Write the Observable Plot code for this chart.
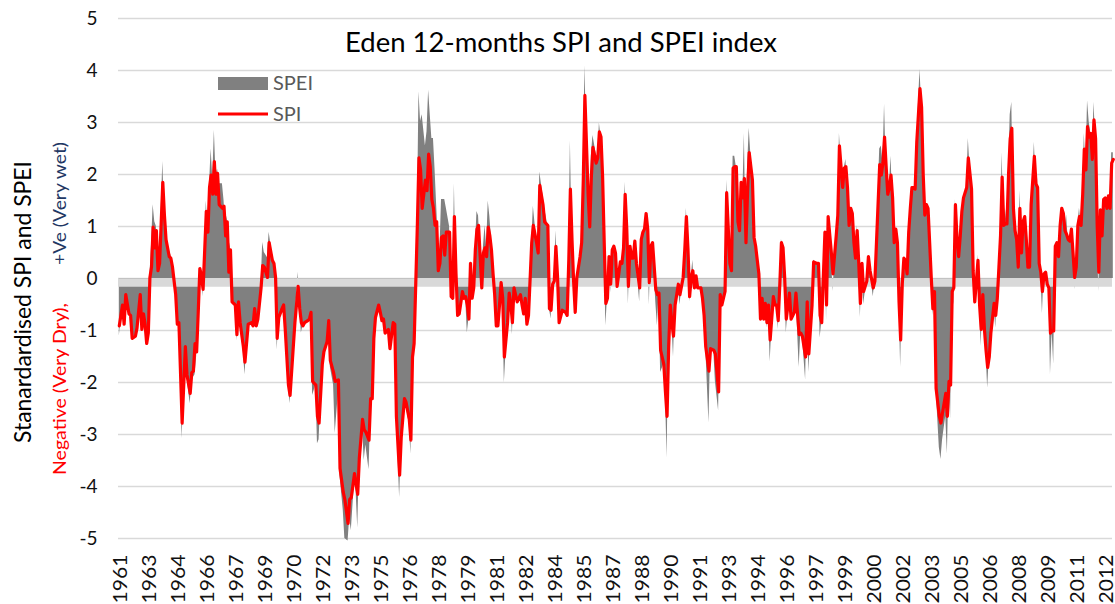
<!DOCTYPE html>
<html>
<head>
<meta charset="utf-8">
<script src="https://cdn.jsdelivr.net/npm/d3@7"></script>
<script src="https://cdn.jsdelivr.net/npm/@observablehq/plot@0.6"></script>
<style>
  html, body { margin: 0; padding: 0; background: #fff; }
  #chart { width: 1115px; height: 604px; }
</style>
</head>
<body>
<div id="chart"></div>
<script>
// Month index (0 = first month of the record) at the turning points
const months = [
  0,2,3,4,6,7,8,10,11,13, 14,15,16,17,18,19,20,21,22,23, 24,25,27,28,29,31,32,33,35,36,
  37,39,41,42,44,45,46,47,48,49, 50,51,52,54,55,56,57,58,59,60, 61,62,64,65,66,67,68,69,70,72,
  73,74,75,77,78,80,82,83,84,85, 86,88,89,90,92,93,95,96,97,98, 99,101,102,103,105,106,108,109,111,112,
  113,114,115,117,118,119,120,122,123,124, 126,127,129,130,131,133,134,136,137,139, 140,142,143,144,146,147,148,149,151,152,
  153,155,156,157,158,159,161,162,163,164, 165,167,168,170,171,172,174,175,177,178, 180,181,182,183,185,186,187,188,190,191,
  192,193,194,195,196,197,198,199,200,201, 202,203,205,206,207,208,209,210,211,213, 214,215,216,217,218,219,220,221,222,223,
  225,226,227,228,229,230,231,232,233,234, 235,236,237,238,239,241,242,243,244,245, 247,249,250,251,252,253,254,256,257,259,
  260,261,263,264,266,267,268,269,270,271, 272,273,275,277,278,279,280,281,282,283, 284,286,287,288,289,291,292,293,294,296,
  297,298,299,300,301,302,303,304,305,306, 307,308,309,311,312,313,314,315,316,317, 318,319,320,321,323,324,325,326,327,328,
  329,330,331,333,334,335,336,338,339,340, 341,342,343,344,345,347,348,350,351,352, 353,354,355,356,357,358,359,361,362,363,
  364,366,367,369,370,372,373,374,376,377, 379,380,381,382,383,384,385,386,387,388, 389,390,391,393,394,395,396,397,398,399,
  400,401,402,403,404,406,407,408,409,410, 411,412,413,414,416,417,419,420,422,423, 424,426,427,428,430,431,433,434,435,436,
  438,439,440,442,443,445,446,447,449,450, 451,452,453,454,455,456,457,458,459,460, 461,462,464,465,466,468,469,470,472,473,
  474,475,476,477,478,479,480,481,482,483, 484,485,486,487,488,489,490,491,492,493, 494,495,497,498,499,500,501,502,503,504,
  505,506,507,509,510,511,513,514,515,516, 517,518,519,520,521,522,523,524,526,527, 528,529,530,531,532,533,534,535,536,537,
  538,539,540,541,543,544,545,546,547,548, 549,550,551,552,553,554,555,556,557,558, 559,560,561,562,563,564,565,566,567,568,
  569,570,571,572,573,574,575,576,577,578, 579,580,581,582,583,584,585,586,587,588, 589,590,591,592,593,594,595,596,597,598,
  599,600,601,602,603,604,605,606,607,608, 609,610,611,612,613,614,615,616,617
];

// 12-month SPI (red line)
const spiValues = [
  -0.91,-0.51,-0.88,-0.31,-0.68,-0.71,-1.15,-1.11,-0.95,-0.31, -0.98,-0.68,-0.88,-1.25,-1.05,0.02,0.22,0.99,0.59,0.92, 0.15,0.29,1.85,1.22,0.75,0.42,0.39,0.22,-0.31,-0.88,
  -0.85,-2.78,-1.31,-1.85,-2.21,-1.81,-1.78,-1.25,-1.41,-0.65, 0.19,0.05,-0.21,1.29,0.89,1.75,1.99,1.62,2.25,1.62, 2.02,1.42,1.35,1.39,0.82,1.09,0.12,0.55,-0.45,-0.51,
  -1.08,-0.45,-0.85,-1.31,-1.61,-0.88,-0.85,-0.91,-0.58,-0.91, -0.78,-0.18,0.25,0.22,0.02,0.69,0.35,0.29,0.02,-1.15, -0.75,-0.58,-0.51,-0.98,-2.05,-2.25,-1.31,-0.85,-0.15,-0.58,
  -0.85,-0.91,-0.85,-0.81,-0.78,-0.65,-1.98,-2.05,-2.65,-2.78, -1.65,-1.41,-1.21,-0.81,-1.58,-1.81,-1.98,-1.95,-3.65,-4.11, -4.25,-4.71,-4.25,-4.21,-3.75,-3.95,-4.15,-3.45,-2.71,-2.91,
  -2.95,-3.11,-2.31,-2.31,-1.15,-0.75,-0.51,-0.65,-0.81,-0.78, -1.05,-0.98,-1.35,-0.85,-0.88,-2.65,-3.78,-3.05,-2.31,-2.38, -2.71,-3.11,-1.51,-1.25,1.02,2.32,2.09,1.35,1.89,1.69,
  2.39,2.15,1.52,1.35,1.02,1.09,0.15,0.29,0.79,0.82, 0.45,0.89,0.89,-0.35,-0.38,1.19,0.09,-0.71,-0.68,-0.25, -0.38,-0.35,-0.51,-0.78,0.29,-0.38,-0.18,0.55,0.95,1.02,
  -0.18,0.49,0.59,0.42,0.99,0.82,0.55,0.09,-0.31,-0.91, -0.91,-0.51,-0.08,-0.38,-1.51,-0.85,-0.28,-0.48,-0.85,-0.18, -0.45,-0.31,-0.51,-0.68,-0.38,-0.88,-0.71,0.69,1.02,0.69,
  0.49,1.79,1.42,1.09,1.02,-0.58,-0.61,-0.11,-0.05,0.62, 0.05,-0.85,-0.61,-0.65,-0.71,0.35,1.72,0.75,-0.05,-0.65, 0.02,0.42,0.69,1.89,3.52,1.62,0.99,1.95,2.52,2.22,
  2.32,2.82,2.72,1.95,0.69,-0.48,-0.38,0.42,-0.11,0.55, 0.62,0.49,-0.15,0.32,0.29,0.59,1.62,0.95,-0.15,0.62, 0.39,0.39,0.72,0.29,-0.18,0.75,0.89,0.95,1.25,0.95,
  -0.08,0.62,0.69,-0.21,-0.31,-0.28,-1.38,-1.65,-2.18,-2.65, -1.31,-0.51,-0.85,-1.11,-0.51,-0.11,-0.31,0.02,0.55,1.19, 0.55,-0.35,0.02,0.15,-0.18,0.05,-0.18,-0.18,-0.38,-0.71,
  -1.31,-1.78,-1.35,-1.38,-1.45,-2.18,-0.31,-0.51,-0.25,1.65, 0.29,0.15,2.12,2.15,2.15,1.09,0.92,1.85,1.55,1.92, 0.69,1.69,2.42,1.89,0.79,0.62,0.35,0.09,-0.78,-0.38,
  -0.78,-0.48,-0.85,-0.51,-1.18,-0.35,-0.51,-0.51,-0.81,-0.11, 0.69,0.59,0.02,-0.78,-0.28,-0.78,-0.65,-0.28,-1.08,-1.05, -1.11,-1.51,-0.45,-1.45,-0.51,0.32,0.29,0.29,-0.71,-0.85,
  0.89,-0.51,1.19,0.49,0.09,0.82,1.22,2.55,1.75,2.12, 2.15,1.75,1.02,1.35,1.25,0.69,0.39,0.92,0.29,-0.48, 0.29,-0.25,-0.05,0.42,0.15,-0.18,-0.05,0.69,2.19,1.99,
  2.22,2.72,2.15,1.62,1.75,1.99,1.55,0.69,0.95,0.69, -0.45,-1.18,-0.11,0.39,0.35,0.09,0.89,1.35,1.75,1.75, 1.72,2.62,3.65,3.29,2.00,1.22,1.42,1.35,0.69,0.02,
  -0.58,-0.25,-2.11,-2.65,-2.78,-2.58,-2.21,-2.65,-1.98,-2.05, -0.25,-0.18,1.42,0.75,0.42,0.82,1.29,1.55,1.75,2.32, 2.02,1.72,0.15,-0.45,-0.05,0.35,-0.51,-0.98,-0.31,-0.98,
  -1.38,-1.71,-1.51,-1.05,-0.48,-0.71,-0.38,0.22,0.82,1.95, 1.02,1.05,1.05,2.02,2.69,2.89,1.35,0.92,0.75,0.22, 1.35,0.49,1.09,1.19,0.75,0.22,0.22,1.42,1.89,2.35,
  1.82,1.75,0.29,0.12,-0.25,0.09,0.12,-0.11,-0.18,-1.05, -1.01,-1.01,0.62,0.69,0.42,1.02,1.35,1.25,0.92,0.85, 0.75,0.72,0.95,0.49,0.02,0.22,1.02,1.19,1.02,1.62,
  2.49,2.09,2.92,2.72,2.79,2.29,3.05,2.69,1.02,0.12, 1.32,0.82,1.52,1.55,1.35,1.59,1.35,2.22,2.29
];

// 12-month SPEI (grey area)
const speiValues = [
  -1.11,-0.51,-0.90,-0.31,-0.68,-0.71,-1.17,-1.11,-0.95,-0.31, -0.98,-0.70,-0.88,-1.30,-1.05,0.05,0.65,1.42,1.09,1.00, 0.55,0.35,2.25,1.30,0.80,0.48,0.45,0.25,-0.31,-0.88,
  -0.85,-3.08,-1.35,-1.90,-2.41,-2.00,-1.90,-1.85,-1.50,-0.70, 0.20,0.05,-0.35,1.49,0.89,1.80,2.49,1.90,2.85,2.00, 2.10,1.82,1.82,1.50,1.00,1.20,0.75,0.60,-0.45,-0.51,
  -1.20,-0.50,-0.85,-1.40,-1.85,-0.88,-0.85,-0.91,-0.58,-0.91, -0.78,-0.18,0.69,0.50,0.40,0.89,0.45,0.29,0.02,-1.38, -0.75,-0.58,-0.51,-0.98,-2.10,-2.41,-1.31,-0.85,0.12,-0.58,
  -1.05,-0.91,-0.85,-0.81,-0.78,-0.65,-2.25,-2.05,-3.18,-3.10, -1.70,-1.45,-1.21,-0.85,-1.70,-2.05,-2.98,-2.20,-3.80,-4.45, -5.00,-5.05,-4.60,-4.85,-3.90,-4.10,-4.80,-3.60,-2.85,-3.50,
  -3.20,-3.68,-2.68,-2.31,-1.20,-0.75,-0.55,-0.65,-0.81,-0.78, -1.05,-0.98,-1.35,-0.85,-0.88,-2.65,-4.21,-3.25,-2.35,-2.45, -2.80,-3.38,-1.55,-1.25,1.02,3.59,3.02,3.15,2.55,2.82,
  3.62,3.15,2.69,2.69,2.09,1.40,0.70,0.50,1.52,1.52, 1.52,1.35,1.00,-0.38,-0.38,1.82,0.09,-0.71,-0.68,-0.25, -0.38,-0.35,-1.05,-0.78,0.29,-0.38,-0.18,0.55,1.29,1.20,
  -0.18,0.60,1.02,0.60,1.49,1.19,0.75,0.09,-0.31,-0.91, -0.91,-0.51,-0.08,-0.38,-2.01,-0.85,-0.28,-0.48,-1.08,-0.18, -0.45,-0.31,-0.51,-0.68,-0.38,-0.88,-0.71,0.69,1.39,0.75,
  0.55,2.05,1.60,1.35,1.02,-0.58,-0.78,-0.11,-0.05,0.92, 0.05,-0.85,-0.61,-0.65,-0.71,0.35,2.65,0.75,0.29,-0.65, 0.02,0.42,0.69,1.89,4.09,1.62,0.99,2.35,2.75,2.40,
  2.32,2.99,2.72,1.95,0.69,-0.91,-0.38,0.42,-0.28,0.55, 0.62,0.49,-0.15,0.32,0.29,0.59,1.85,0.95,-0.50,0.62, 0.39,0.39,0.72,0.29,-0.45,0.75,0.89,0.95,1.25,0.95,
  -0.51,0.62,0.69,-0.45,-0.91,-0.28,-1.81,-1.65,-2.18,-3.45, -1.31,-0.51,-0.85,-1.51,-0.51,-0.11,-0.51,0.02,0.55,1.35, 0.55,-0.45,0.02,0.35,-0.18,0.05,-0.18,-0.18,-0.38,-0.71,
  -1.31,-2.78,-1.35,-1.38,-1.98,-2.55,-0.60,-0.51,-0.25,1.89, 0.29,0.15,2.35,2.35,2.15,1.09,0.92,1.85,1.55,2.79, 0.69,2.15,2.89,1.89,0.79,0.70,0.45,0.09,-0.78,-0.58,
  -0.78,-0.48,-0.95,-0.51,-1.61,-0.35,-0.51,-0.51,-0.98,-0.11, 0.75,0.59,0.02,-1.05,-0.28,-0.78,-0.65,-0.28,-1.71,-1.05, -1.11,-1.95,-0.45,-1.81,-0.51,0.35,0.29,0.29,-1.15,-0.85,
  0.89,-0.81,1.19,0.49,-0.25,0.82,1.22,2.79,1.75,2.12, 2.29,1.75,1.02,1.35,1.25,0.69,0.55,1.02,0.29,-0.75, 0.29,-0.50,-0.05,0.42,0.15,-0.35,-0.05,0.69,2.49,2.55,
  2.22,3.35,2.15,1.62,1.75,2.35,1.55,0.69,0.95,0.69, -0.45,-1.71,-0.11,0.39,0.35,0.09,0.89,1.35,1.75,1.75, 1.72,2.62,4.02,3.35,2.00,1.22,1.42,1.35,0.69,0.02,
  -0.71,-0.25,-2.11,-3.25,-3.48,-3.11,-2.65,-3.38,-1.98,-2.70, -0.25,-0.51,1.52,0.75,0.42,0.82,1.29,1.55,1.75,2.69, 2.15,1.72,0.15,-0.51,-0.05,0.45,-0.51,-1.31,-0.31,-0.98,
  -1.38,-2.11,-1.51,-1.05,-0.48,-0.95,-0.38,0.22,0.82,2.42, 1.02,1.35,1.05,2.02,3.15,3.39,1.35,0.92,0.75,0.22, 1.69,0.49,1.09,1.19,0.75,0.22,0.22,1.42,1.89,2.62,
  1.82,1.92,0.29,0.12,-0.68,0.09,0.12,-0.11,-0.18,-1.85, -1.01,-1.65,0.62,0.69,0.42,1.02,1.35,1.25,0.92,1.22, 0.75,0.72,0.95,0.49,-0.21,0.22,1.02,1.35,1.02,1.62,
  2.79,2.09,3.42,3.02,2.79,2.29,3.39,2.69,1.02,-0.25, 1.32,0.82,1.52,1.55,1.35,1.59,1.35,2.42,2.42
];

// Category-axis labels (one every 18 months) and the month they sit on
const tickYears = ["1961","1963","1964","1966","1967","1969","1970","1972","1973","1975","1976","1978",
  "1979","1981","1982","1984","1985","1987","1988","1990","1991","1993","1994","1996","1997","1999",
  "2000","2002","2003","2005","2006","2008","2009","2011","2012"];
const tickMonths = [1,19,37,55,73,91,109,127,145,163,181,199,217,235,253,271,289,307,325,343,361,379,
  397,415,433,451,469,487,505,523,541,559,577,595,613];
const yTicks = [-5,-4,-3,-2,-1,0,1,2,3,4,5];

if (months.length !== spiValues.length || months.length !== speiValues.length) {
  console.error("length mismatch", months.length, spiValues.length, speiValues.length);
}

const data = months.map((m, j) => ({m, spi: spiValues[j], spei: speiValues[j]}));
const font = "Lato, 'Open Sans', sans-serif";

const chart = Plot.plot({
  width: 1115,
  height: 604,
  marginLeft: 118,
  marginRight: 3,
  marginTop: 18,
  marginBottom: 66,
  style: {fontFamily: font, color: "#111", background: "#ffffff", overflow: "visible"},
  x: {domain: [-0.5, 616.5]},
  y: {domain: [-5, 5]},
  marks: [
    Plot.ruleY(yTicks, {stroke: "#d9d9d9", strokeWidth: 1.3}),
    Plot.areaY(data, {x: "m", y: "spei", fill: "#808080"}),
    Plot.ruleY([0], {stroke: "#d9d9d9", strokeWidth: 8.5, dy: 4}),
    Plot.lineY(data, {x: "m", y: "spi", stroke: "#ff0000", strokeWidth: 3.2, strokeLinejoin: "round"}),
    Plot.axisY({ticks: yTicks, tickFormat: d => String(d), tickSize: 0, tickPadding: 21, fontSize: 19, label: null}),
    Plot.axisX({ticks: tickMonths, tickFormat: d => tickYears[tickMonths.indexOf(d)], tickRotate: -90,
      tickSize: 0, tickPadding: 16, fontSize: 19, label: null})
  ]
});

document.getElementById("chart").appendChild(chart);

const svg = d3.select(chart);

// stretch the year labels to the reference's length
svg.selectAll('g[aria-label="x-axis tick label"] text')
  .attr("textLength", 49).attr("lengthAdjust", "spacingAndGlyphs");

// Title
svg.append("text")
  .attr("x", 561).attr("y", 52)
  .attr("text-anchor", "middle")
  .attr("font-family", font).attr("font-size", 26)
  .attr("fill", "#000")
  .attr("textLength", 432).attr("lengthAdjust", "spacingAndGlyphs")
  .text("Eden 12-months SPI and SPEI index");

// Legend
const leg = svg.append("g").attr("font-family", font).attr("font-size", 20)
  .attr("fill", "#595959").attr("text-anchor", "start");
leg.append("rect").attr("x", 218).attr("y", 77).attr("width", 50).attr("height", 13).attr("fill", "#808080");
leg.append("text").attr("x", 273).attr("y", 90).attr("text-anchor", "start").text("SPEI");
leg.append("line").attr("x1", 218).attr("x2", 268).attr("y1", 114).attr("y2", 114)
  .attr("stroke", "#ff0000").attr("stroke-width", 3);
leg.append("text").attr("x", 273).attr("y", 121).attr("text-anchor", "start").text("SPI");

// Y-axis titles
svg.append("text")
  .attr("transform", "translate(31,302) rotate(-90)")
  .attr("text-anchor", "middle")
  .attr("font-family", font).attr("font-size", 24).attr("fill", "#000")
  .attr("textLength", 282).attr("lengthAdjust", "spacingAndGlyphs")
  .text("Stanardardised SPI and SPEI");
svg.append("text")
  .attr("transform", "translate(66,475) rotate(-90)")
  .attr("text-anchor", "start")
  .attr("font-family", font).attr("font-size", 18).attr("fill", "#ff0000")
  .attr("textLength", 172).attr("lengthAdjust", "spacingAndGlyphs")
  .text("Negative (Very Dry),");
svg.append("text")
  .attr("transform", "translate(66,265) rotate(-90)")
  .attr("text-anchor", "start")
  .attr("font-family", font).attr("font-size", 18).attr("fill", "#1f3864")
  .attr("textLength", 123).attr("lengthAdjust", "spacingAndGlyphs")
  .text("+Ve (Very wet)");
</script>
</body>
</html>
